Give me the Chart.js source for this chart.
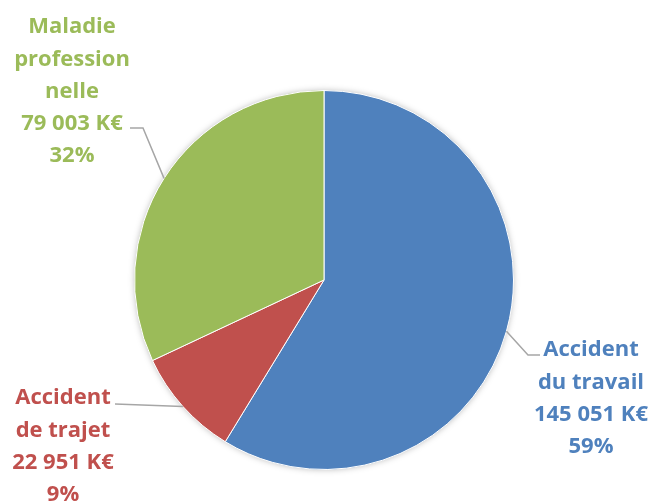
<!DOCTYPE html>
<html>
<head>
<meta charset="utf-8">
<script src="https://cdn.jsdelivr.net/npm/chart.js@4.4.1/dist/chart.umd.min.js"></script>
<style>
  html, body { margin: 0; padding: 0; background: #fff; }
  #wrap { width: 656px; height: 501px; }
</style>
</head>
<body>
<div id="wrap"><canvas id="pie"></canvas></div>
<script>
const categories = ['Accident du travail', 'Accident de trajet', 'Maladie professionnelle'];
const labelLines = [['Accident', 'du travail'], ['Accident', 'de trajet'], ['Maladie', 'profession', 'nelle']];
const amounts = [145051, 22951, 79003];
const sliceColors = ['#4F81BD', '#C0504D', '#9BBB59'];

// where each label block sits and where its leader line starts
const labelBoxes = [
    { x: 591, y: 350, elbow: [540, 355], bend: [528, 355] },
    { x: 63, y: 398, elbow: [115, 404], bend: null },
    { x: 72, y: 27, elbow: [130, 128], bend: [143, 128] }
];

function formatK(v) {
    return v.toString().replace(/\B(?=(\d{3})+(?!\d))/g, ' ') + ' K€';
}

const total = amounts.reduce((a, b) => a + b, 0);

const pieShadow = {
    id: 'pieShadow',
    beforeDatasetsDraw(chart) {
        const arc = chart.getDatasetMeta(0).data[0];
        if (!arc) return;
        const ctx = chart.ctx;
        ctx.save();
        ctx.shadowColor = 'rgba(0,0,0,0.35)';
        ctx.shadowBlur = 7;
        ctx.beginPath();
        ctx.arc(arc.x, arc.y, arc.outerRadius - 1, 0, Math.PI * 2);
        ctx.fillStyle = '#fff';
        ctx.fill();
        ctx.restore();
    }
};

const outsideLabels = {
    id: 'outsideLabels',
    afterDatasetsDraw(chart) {
        const ctx = chart.ctx;
        const meta = chart.getDatasetMeta(0);
        meta.data.forEach((arc, i) => {
            const box = labelBoxes[i];
            const mid = (arc.startAngle + arc.endAngle) / 2;
            const ex = arc.x + Math.cos(mid) * arc.outerRadius;
            const ey = arc.y + Math.sin(mid) * arc.outerRadius;

            ctx.save();
            ctx.strokeStyle = '#A6A6A6';
            ctx.lineWidth = 1.5;
            ctx.beginPath();
            ctx.moveTo(box.elbow[0], box.elbow[1]);
            if (box.bend) ctx.lineTo(box.bend[0], box.bend[1]);
            ctx.lineTo(ex, ey);
            ctx.stroke();

            const lines = labelLines[i].concat([formatK(amounts[i]), Math.round(amounts[i] / total * 100) + '%']);
            ctx.fillStyle = sliceColors[i];
            ctx.font = 'bold 22px "Open Sans"';
            ctx.textAlign = 'center';
            ctx.textBaseline = 'middle';
            lines.forEach((t, k) => {
                ctx.fillText(t, box.x, box.y + k * 32.3);
            });
            ctx.restore();
        });
    }
};

new Chart(document.getElementById('pie'), {
    type: 'pie',
    data: {
        labels: categories,
        datasets: [{
            data: amounts,
            backgroundColor: sliceColors,
            borderColor: '#fff',
            borderWidth: 1
        }]
    },
    options: {
        responsive: true,
        maintainAspectRatio: false,
        animation: false,
        layout: { padding: { top: 90, bottom: 31, left: 134, right: 142 } },
        plugins: {
            legend: { display: false },
            tooltip: { enabled: false }
        }
    },
    plugins: [pieShadow, outsideLabels]
});
</script>
</body>
</html>
